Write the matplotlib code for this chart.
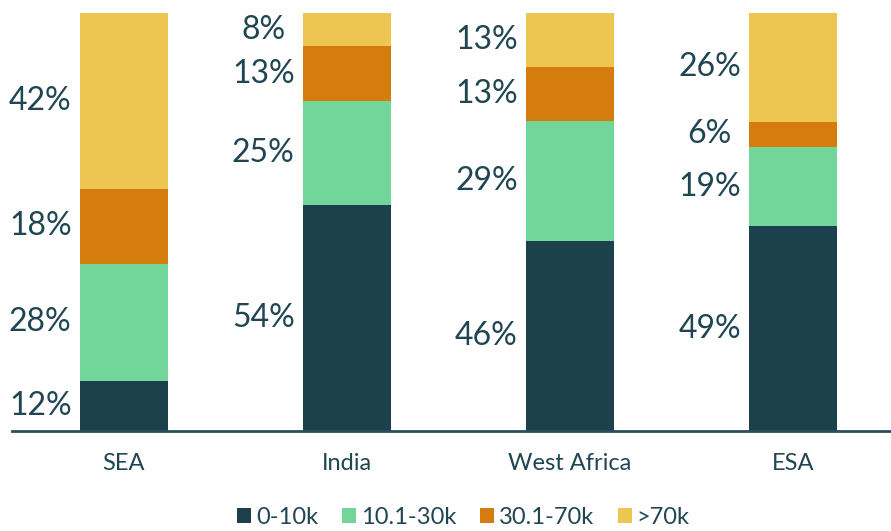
import matplotlib.pyplot as plt
import numpy as np

plt.rcParams['font.family'] = ['Lato', 'DejaVu Sans']

regions = ['SEA', 'India', 'West Africa', 'ESA']
series = ['0-10k', '10.1-30k', '30.1-70k', '>70k']
colors = ['#1c414c', '#72d69a', '#d47c0e', '#edc651']

# shares per region, bottom to top
values = np.array([
    [12, 54, 46, 49],   # 0-10k
    [28, 25, 29, 19],   # 10.1-30k
    [18, 13, 13, 6],    # 30.1-70k
    [42, 8, 13, 26],    # >70k
], dtype=float)

text_col = '#1f4652'

# bars fill to 100% (rounded labels can add up to 101)
shares = values / values.sum(axis=0) * 100

fig = plt.figure(figsize=(8.91, 5.31), dpi=100)
ax = fig.add_axes([0.0135, 0.188, 0.9865, 0.7875])

x = np.arange(len(regions))
width = 0.395
bottom = np.zeros(len(regions))
for i, name in enumerate(series):
    ax.bar(x, shares[i], width, bottom=bottom, color=colors[i], label=name)
    for j in range(len(regions)):
        # labels sit in a column left of each bar, centred
        ax.text(x[j] - width / 2 - 0.176, bottom[j] + shares[i][j] / 2,
                f'{values[i][j]:.0f}%', ha='center', va='center',
                fontsize=23, color=text_col)
    bottom += shares[i]

ax.set_xlim(-0.5, 3.44)
ax.set_ylim(0, 100)
ax.set_xticks(x)
ax.set_xticklabels(regions, fontsize=17, color=text_col)
ax.tick_params(axis='x', length=0, pad=16)
ax.set_yticks([])
for s in ['top', 'right', 'left']:
    ax.spines[s].set_visible(False)
ax.spines['bottom'].set_color('#2b4f5a')
ax.spines['bottom'].set_linewidth(2)

leg = fig.legend(loc='center', bbox_to_anchor=(0.52, 0.026), ncol=4,
                 frameon=False, fontsize=17, handlelength=0.6, handleheight=0.6,
                 handletextpad=0.2, columnspacing=1.0)
for t in leg.get_texts():
    t.set_color(text_col)

fig.savefig('out.png', dpi=100)
